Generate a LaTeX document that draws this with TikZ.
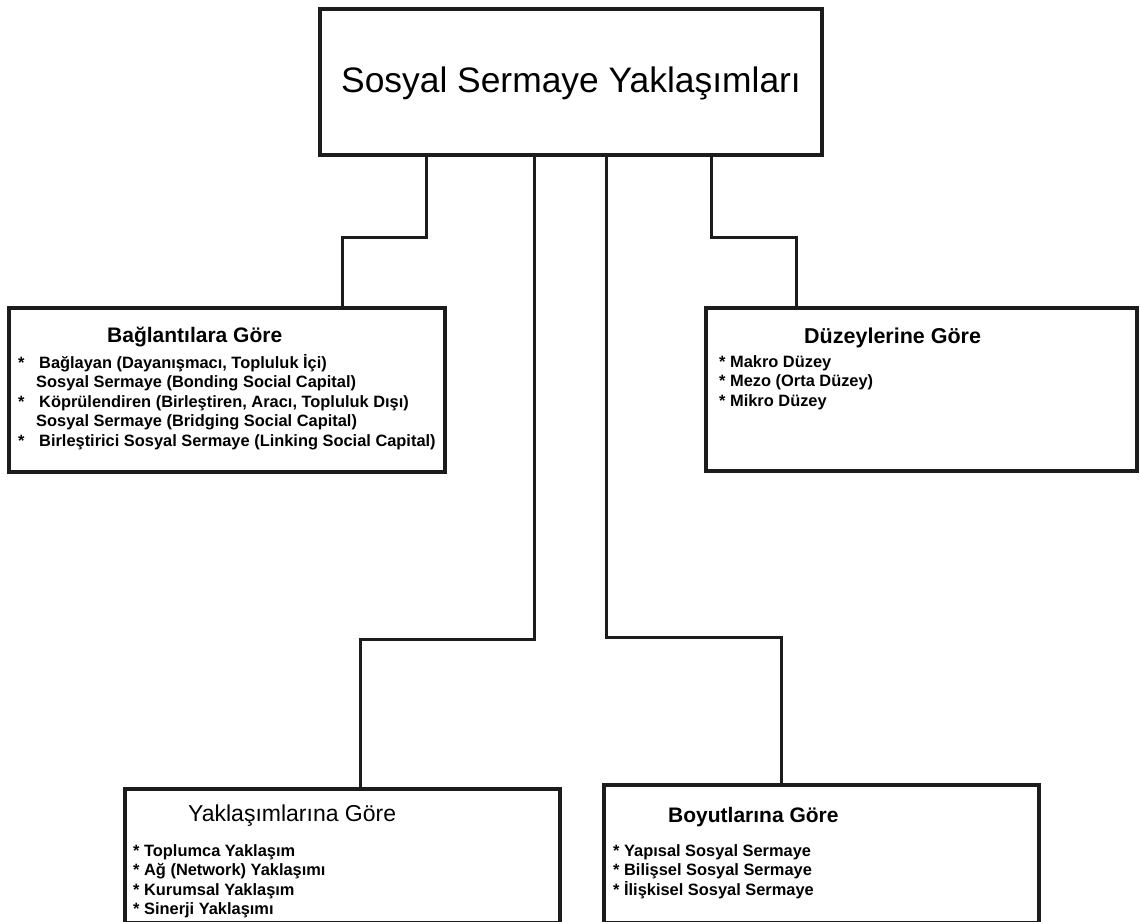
\documentclass[tikz,border=0pt]{standalone}
\usepackage{fontspec}
\setmainfont{Liberation Sans}
\definecolor{linecol}{RGB}{28,28,28}
\usetikzlibrary{positioning}

\begin{document}
\begin{tikzpicture}[x=1pt,y=-1pt,
    box/.style={draw=linecol, line width=4pt, inner sep=0pt, outer sep=0pt, anchor=north west},
    link/.style={draw=linecol, line width=3pt},
    head/.style={anchor=base west, inner sep=0pt, font=\fontsize{21}{25}\selectfont\bfseries},
    entry/.style={anchor=base west, inner sep=0pt, font=\fontsize{16.4}{19.5}\selectfont\bfseries}]
  \useasboundingbox[fill=white] (0,0) rectangle (1140,921);

  % boxes
  \node[box, minimum width=502pt, minimum height=146pt] (sosyal) at (320,9) {};
  \node[box, minimum width=436pt, minimum height=164pt] (baglanti) at (9,308) {};
  \node[box, minimum width=431pt, minimum height=163pt] (duzey) at (706,308) {};
  \node[box, minimum width=435pt, minimum height=133.6pt] (yaklasim) at (125,789) {};
  \node[box, minimum width=435pt, minimum height=137.6pt] (boyut) at (604,785) {};

  \node[anchor=base, inner sep=0pt, font=\fontsize{35.4}{42}\selectfont] (title)
    at (571,92) {Sosyal Sermaye Yaklaşımları};

  % connectors
  \draw[link] (sosyal.south -| 426,0) |- (342,237) -- (baglanti.north -| 342,0);
  \draw[link] (sosyal.south -| 534,0) |- (360,639) -- (yaklasim.north -| 360,0);
  \draw[link] (sosyal.south -| 606,0) |- (781,637) -- (boyut.north -| 781,0);
  \draw[link] (sosyal.south -| 711,0) |- (796,237) -- (duzey.north -| 796,0);

  % Baglantilara Gore
  \node[head] (baghead) at (107,342) {Bağlantılara Göre};
  \node[entry] (bag1) at (18,368) {*\hspace{14.6pt}Bağlayan (Dayanışmacı, Topluluk İçi)};
  \node[entry] (bag2) at (36,387.5) {Sosyal Sermaye (Bonding Social Capital)};
  \node[entry] (bag3) at (18,407) {*\hspace{14.6pt}Köprülendiren (Birleştiren, Aracı, Topluluk Dışı)};
  \node[entry] (bag4) at (36,426.5) {Sosyal Sermaye (Bridging Social Capital)};
  \node[entry] (bag5) at (18,446) {*\hspace{14.6pt}Birleştirici Sosyal Sermaye (Linking Social Capital)};

  % Duzeylerine Gore
  \node[head, font=\fontsize{21.5}{25}\selectfont\bfseries] (duzhead) at (804,343) {Düzeylerine Göre};
  \node[entry] (duz1) at (719,367) {* Makro Düzey};
  \node[entry] (duz2) at (719,386.5) {* Mezo (Orta Düzey)};
  \node[entry] (duz3) at (719,406) {* Mikro Düzey};

  % Yaklasimlarina Gore
  \node[head, font=\fontsize{23}{27}\selectfont] (yakhead) at (188,821) {Yaklaşımlarına Göre};
  \node[entry] (yak1) at (133,856) {* Toplumca Yaklaşım};
  \node[entry] (yak2) at (133,875.5) {* Ağ (Network) Yaklaşımı};
  \node[entry] (yak3) at (133,895) {* Kurumsal Yaklaşım};
  \node[entry] (yak4) at (133,914.5) {* Sinerji Yaklaşımı};

  % Boyutlarina Gore
  \node[head] (boyhead) at (668,822) {Boyutlarına Göre};
  \node[entry] (boy1) at (613,856) {* Yapısal Sosyal Sermaye};
  \node[entry] (boy2) at (613,875.5) {* Bilişsel Sosyal Sermaye};
  \node[entry] (boy3) at (613,895) {* İlişkisel Sosyal Sermaye};
\end{tikzpicture}
\end{document}
